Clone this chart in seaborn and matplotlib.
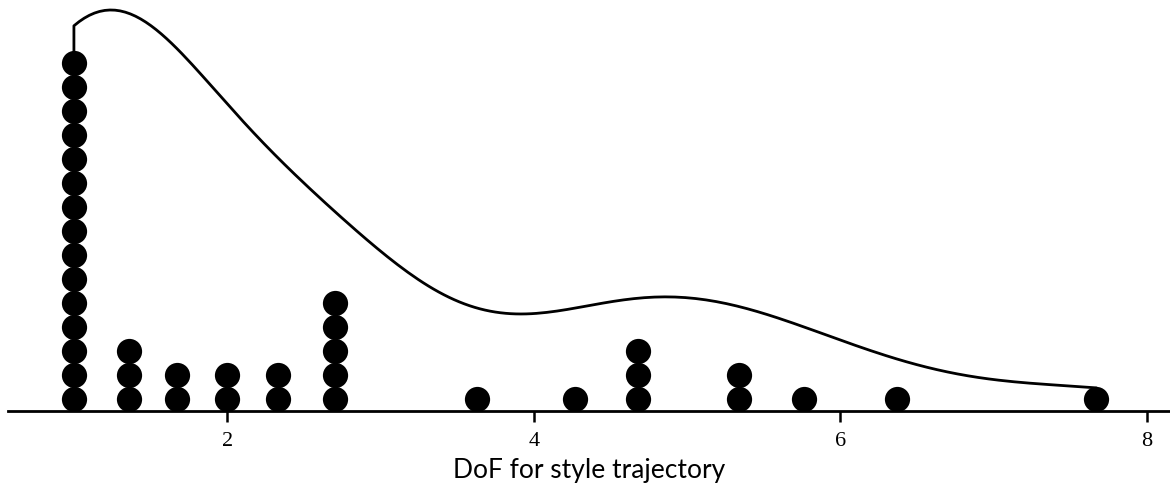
import numpy as np
import pandas as pd
import matplotlib
matplotlib.use("Agg")
import matplotlib.pyplot as plt
import seaborn as sns

# Degrees of freedom per style trajectory (distinct values and how many fits share each)
dof_values = [1.0, 1.36, 1.67, 2.0, 2.33, 2.70, 3.63, 4.27, 4.68, 5.34, 5.76, 6.37, 7.67]
dof_counts = [15, 3, 2, 2, 2, 5, 1, 1, 3, 2, 1, 1, 1]
tick_values = [2, 4, 6, 8]
x_label = "DoF for style trajectory"

sns.set_theme(style="white")
plt.rcParams["font.family"] = ["DejaVu Sans"]

# One row per observation, with its position in the dot stack
rows = []
for v, c in zip(dof_values, dof_counts):
    for k in range(c):
        rows.append({"dof": v, "stack": k + 0.5})
df = pd.DataFrame(rows)

fig = plt.figure(figsize=(11.7, 4.9), dpi=100)
ax = fig.add_axes([8 / 1170, 79 / 490, 1 - 8 / 1170, 411 / 490])

sns.scatterplot(data=df, x="dof", y="stack", ax=ax, color="black",
                s=330, linewidth=0, legend=False, zorder=3)
ax.set_ylim(0, 411 / 24)
ax.set_xlim(0.57, 8.15)

# Density curve on a second y-scale, restricted to the observed range
ax2 = ax.twinx()
sns.kdeplot(data=df, x="dof", cut=0, bw_adjust=0.8, ax=ax2, color="black", linewidth=2)
line = ax2.lines[0]
xs, ys = line.get_data()
line.set_data(np.r_[xs[0], xs, xs[-1]], np.r_[0, ys, 0])
ax2.set_ylim(0, ys.max() * 411 / 401)
ax2.set_xlim(ax.get_xlim())

for a in (ax, ax2):
    for side in ("left", "right", "top"):
        a.spines[side].set_visible(False)
    a.set_yticks([])
    a.set_ylabel("")
ax2.spines["bottom"].set_visible(False)
ax.spines["bottom"].set_linewidth(2)
ax.spines["bottom"].set_color("black")

ax.set_xticks(tick_values)
ax.set_xticklabels([str(t) for t in tick_values], family="Liberation Serif",
                   fontsize=16, color="black")
ax.tick_params(axis="x", bottom=True, length=8, width=1.8, color="black", pad=7)
ax.set_xlabel(x_label, family="Lato", fontsize=19, labelpad=5, color="black")

fig.savefig("out.png", dpi=100)
